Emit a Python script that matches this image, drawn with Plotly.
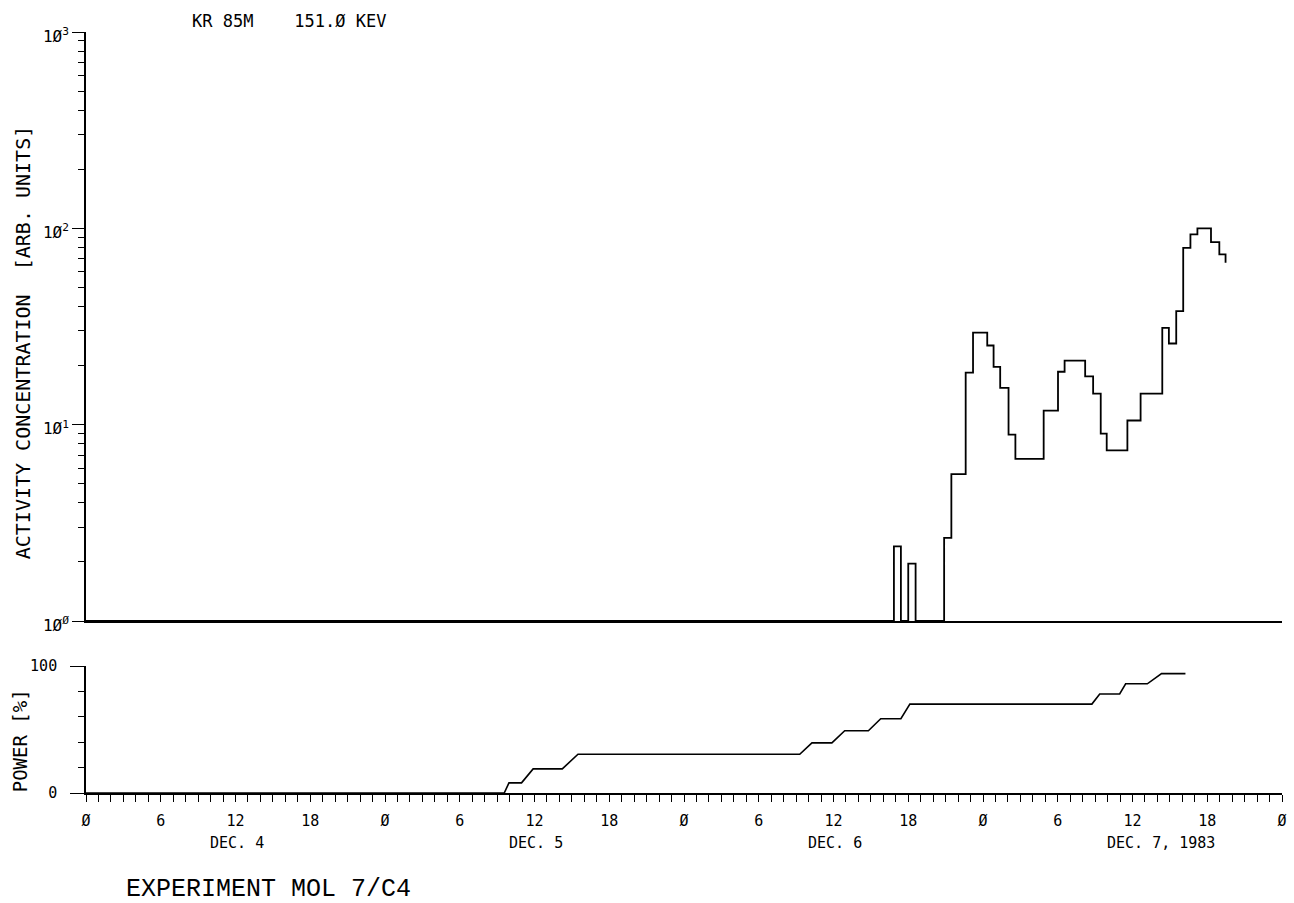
import plotly.graph_objects as go

# Kr-85m activity (151.0 keV line): step edges in hours from Dec. 4, 00:00
act_hours = [0.0, 64.85, 65.41, 66.00, 66.59, 68.88, 69.46, 70.61, 71.20, 72.34,
             72.85, 73.38, 74.05, 74.60, 76.87, 78.02, 78.55, 80.20, 80.84, 81.45,
             81.93, 83.59, 84.65, 86.39, 86.92, 87.51, 88.07, 88.65, 89.21, 90.30,
             90.97, 91.47]
act_values = [1.0, 2.4, 1.0, 1.96, 1.0, 2.65, 5.6, 18.4, 29.4, 25.3,
              19.7, 15.4, 8.9, 6.7, 11.8, 18.6, 21.2, 17.6, 14.4, 9.0,
              7.4, 10.5, 14.4, 31.1, 25.9, 37.9, 79.6, 93.1, 100.0, 85.0,
              73.6, 66.8]

# Reactor power history
power_hours = [0.0, 33.57, 33.95, 34.96, 35.89, 38.23, 39.49, 57.29, 58.27, 59.87,
               60.90, 62.80, 63.79, 65.41, 66.13, 80.74, 81.37, 82.97, 83.45, 85.19,
               86.33, 88.25]
power_pct = [0, 0, 8, 8, 19, 19, 30.5, 30.5, 39.5, 39.5,
             49, 49, 58.5, 58.5, 70, 70, 78, 78, 86, 86,
             94, 94]

# Axis labelling
hour_ticks = list(range(0, 97, 6))
hour_labels = ["Ø", "6", "12", "18"] * 4 + ["Ø"]
day_ticks = [0, 24, 48, 72, 96]
day_label_pos = [12, 36, 60, 84]
day_labels = ["DEC. 4", "DEC. 5", "DEC. 6", "DEC. 7, 1983"]
decade_vals = [1, 10, 100, 1000]
decade_labels = ["1Ø<sup>Ø</sup>", "1Ø<sup>1</sup>", "1Ø<sup>2</sup>", "1Ø<sup>3</sup>"]
log_minor = [m * 10 ** d for d in range(3) for m in range(2, 10)]

FONT = "DejaVu Sans Mono"
THIN = "Liberation Mono"
INK = "black"

fig = go.Figure()
fig.add_trace(go.Scatter(
    x=act_hours, y=act_values, mode="lines",
    line=dict(color=INK, width=1.8, shape="hv"),
    xaxis="x", yaxis="y", showlegend=False, hoverinfo="skip"))
fig.add_trace(go.Scatter(
    x=power_hours, y=power_pct, mode="lines",
    line=dict(color=INK, width=1.6),
    xaxis="x2", yaxis="y2", showlegend=False, hoverinfo="skip"))

L, R, T, B = 86, 7, 32, 110
W, H = 1294, 903
ph = H - T - B


def py(pix):
    """pixel row -> paper y"""
    return (H - B - pix) / ph


def px(pix):
    """pixel column -> paper x"""
    return (pix - L) / (W - L - R)


axis_common = dict(showgrid=False, zeroline=False, showline=True,
                   linecolor=INK, linewidth=1.6, tickcolor=INK, tickwidth=1.4)

annotations = [
    dict(text="ACTIVITY CONCENTRATION  [ARB. UNITS]", textangle=-90,
         xref="paper", yref="paper", x=px(23), y=py(343),
         xanchor="center", yanchor="middle", showarrow=False,
         font=dict(family=FONT, size=20, color=INK)),
    dict(text="POWER [%]", textangle=-90,
         xref="paper", yref="paper", x=px(20), y=py(741),
         xanchor="center", yanchor="middle", showarrow=False,
         font=dict(family=FONT, size=19, color=INK)),
    dict(text="KR 85M    151.Ø KEV", xref="paper", yref="paper",
         x=px(190), y=py(21), xanchor="left", yanchor="middle", showarrow=False,
         font=dict(family=FONT, size=17, color=INK)),
    dict(text="EXPERIMENT MOL 7/C4", xref="paper", yref="paper",
         x=px(124), y=py(889), xanchor="left", yanchor="middle", showarrow=False,
         font=dict(family=THIN, size=25, color=INK)),
]
for pos, lab in zip(day_label_pos, day_labels):
    annotations.append(dict(text=lab, xref="x2", yref="paper", x=pos - 2.2, y=py(843),
                            xanchor="left", yanchor="middle", showarrow=False,
                            font=dict(family=FONT, size=15, color=INK)))

fig.update_layout(
    width=W, height=H,
    margin=dict(l=L, r=R, t=T, b=B),
    paper_bgcolor="white", plot_bgcolor="white",
    xaxis=dict(domain=[0, 1], range=[0, 96], anchor="y",
               ticks="", showticklabels=False, **axis_common),
    yaxis=dict(domain=[py(621), 1], type="log", range=[0, 3], anchor="x",
               tickvals=decade_vals, ticktext=decade_labels,
               ticks="outside", ticklen=12, ticklabelshift=4, ticklabelstandoff=0,
               tickfont=dict(family=FONT, size=16, color=INK),
               minor=dict(tickvals=log_minor, ticks="outside", ticklen=6,
                          tickcolor=INK, tickwidth=1.2),
               **axis_common),
    xaxis2=dict(domain=[0, 1], range=[0, 96], anchor="y2",
                tickvals=hour_ticks, ticktext=hour_labels,
                ticks="outside", ticklen=7, ticklabelstandoff=6,
                tickfont=dict(family=FONT, size=15, color=INK),
                minor=dict(dtick=1, tick0=0, ticks="outside", ticklen=7,
                           tickcolor=INK, tickwidth=1.2),
                **axis_common),
    xaxis3=dict(overlaying="x2", range=[0, 96], anchor="y2", side="bottom",
                tickvals=day_ticks, ticks="outside", ticklen=17,
                showticklabels=False, showgrid=False, zeroline=False,
                showline=False, tickcolor=INK, tickwidth=1.4),
    yaxis2=dict(domain=[0, py(666)], range=[0, 100], anchor="x2",
                tickvals=[0, 100], ticktext=["0", "100"],
                ticks="outside", ticklen=14, ticklabelstandoff=10,
                tickfont=dict(family=FONT, size=15, color=INK),
                minor=dict(tickvals=[20, 40, 60, 80], ticks="outside", ticklen=6,
                           tickcolor=INK, tickwidth=1.2),
                **axis_common),
    annotations=annotations,
)

fig.write_html("out.html")
